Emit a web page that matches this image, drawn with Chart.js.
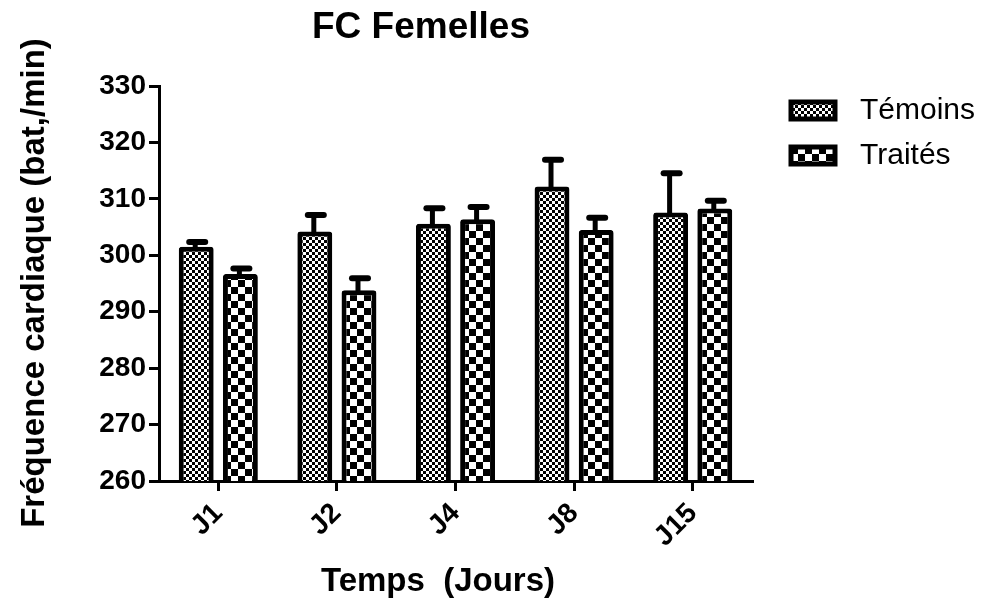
<!DOCTYPE html>
<html>
<head>
<meta charset="utf-8">
<script src="https://cdn.jsdelivr.net/npm/chart.js@4/dist/chart.umd.min.js"></script>
<style>
  html, body { margin: 0; padding: 0; background: #fff; }
  #wrap { width: 984px; height: 601px; }
</style>
</head>
<body>
<div id="wrap"><canvas id="c" width="984" height="601"></canvas></div>
<script>
// Heart rate of female animals, mean + SEM per day
const days = ['J1', 'J2', 'J4', 'J8', 'J15'];
const temoins = [301.5, 304.2, 305.6, 312.2, 307.6];
const temoinsErr = [1.2, 3.3, 3.1, 5.1, 7.3];
const traites = [296.7, 293.8, 306.4, 304.5, 308.3];
const traitesErr = [1.3, 2.5, 2.5, 2.5, 1.7];
const seriesNames = ['Témoins', 'Traités'];
const yTicks = { min: 260, max: 330, step: 10 };

const FONT = '"Liberation Sans", Arial, Helvetica, sans-serif';

// black/white checkerboard fill
function checker(cell) {
  const off = document.createElement('canvas');
  off.width = off.height = cell * 2;
  const g = off.getContext('2d');
  g.fillStyle = '#fff';
  g.fillRect(0, 0, cell * 2, cell * 2);
  g.fillStyle = '#000';
  g.fillRect(0, 0, cell, cell);
  g.fillRect(cell, cell, cell, cell);
  return g.createPattern(off, 'repeat');
}
const fineFill = checker(3);
const coarseFill = checker(7);

// upward error bars with a cap
const errorBars = {
  id: 'errorBars',
  afterDatasetsDraw(chart) {
    const ctx = chart.ctx;
    const yScale = chart.scales.y;
    chart.data.datasets.forEach((ds, i) => {
      const meta = chart.getDatasetMeta(i);
      meta.data.forEach((bar, j) => {
        const top = yScale.getPixelForValue(ds.data[j] + ds.errors[j]);
        ctx.save();
        ctx.strokeStyle = '#000';
        ctx.lineWidth = 5;
        ctx.beginPath();
        ctx.moveTo(bar.x - 1, bar.y + 2);
        ctx.lineTo(bar.x - 1, top + 2);
        ctx.stroke();
        ctx.lineWidth = 6;
        ctx.lineCap = 'round';
        ctx.beginPath();
        ctx.moveTo(bar.x - 7, top + 2);
        ctx.lineTo(bar.x + 9, top + 2);
        ctx.stroke();
        ctx.restore();
      });
    });
  }
};

// title, axis titles and legend
const annotations = {
  id: 'annotations',
  afterDraw(chart) {
    const ctx = chart.ctx;
    ctx.save();
    ctx.fillStyle = '#000';

    ctx.font = 'bold 37px ' + FONT;
    ctx.textAlign = 'center';
    ctx.textBaseline = 'alphabetic';
    ctx.fillText('FC Femelles', 421, 38);

    ctx.font = 'bold 33px ' + FONT;
    ctx.fillText('Temps  (Jours)', 438, 591);

    ctx.save();
    ctx.translate(44, 283);
    ctx.rotate(-Math.PI / 2);
    ctx.fillText('Fréquence cardiaque (bat,/min)', 0, 0);
    ctx.restore();

    // legend
    const rows = [
      { fill: fineFill, y: 110 },
      { fill: coarseFill, y: 155 }
    ];
    ctx.textAlign = 'left';
    ctx.textBaseline = 'middle';
    ctx.font = '30px ' + FONT;
    rows.forEach((r, i) => {
      ctx.fillStyle = r.fill;
      ctx.fillRect(791, r.y - 8, 44, 17);
      ctx.strokeStyle = '#000';
      ctx.lineWidth = 5;
      ctx.strokeRect(791, r.y - 8, 44, 17);
      ctx.fillStyle = '#000';
      ctx.fillText(chart.data.datasets[i].label, 860, r.y + 1);
    });
    ctx.restore();
  }
};

const axisGrid = {
  display: true,
  drawOnChartArea: false,
  drawTicks: true,
  tickLength: 10,
  lineWidth: 3,
  color: '#000'
};

new Chart(document.getElementById('c'), {
  type: 'bar',
  data: {
    labels: days,
    datasets: [
      {
        label: seriesNames[0],
        data: temoins,
        errors: temoinsErr,
        backgroundColor: fineFill,
        borderColor: '#000',
        borderWidth: 5,
        borderRadius: 3,
        borderSkipped: 'start'
      },
      {
        label: seriesNames[1],
        data: traites,
        errors: traitesErr,
        backgroundColor: coarseFill,
        borderColor: '#000',
        borderWidth: 5,
        borderRadius: 3,
        borderSkipped: 'start'
      }
    ]
  },
  options: {
    responsive: false,
    animation: false,
    events: [],
    categoryPercentage: 0.745,
    barPercentage: 0.79,
    layout: { padding: { top: 86, right: 232, left: 0, bottom: 0 } },
    plugins: {
      legend: { display: false },
      title: { display: false },
      tooltip: { enabled: false }
    },
    scales: {
      y: {
        min: yTicks.min,
        max: yTicks.max,
        ticks: {
          stepSize: yTicks.step,
          color: '#000',
          padding: 3,
          font: { family: FONT, size: 28, weight: 'bold' }
        },
        grid: axisGrid,
        border: { display: true, color: '#000', width: 3 },
        afterFit(s) { s.width = 159; }
      },
      x: {
        ticks: {
          color: '#000',
          padding: 6,
          minRotation: 45,
          maxRotation: 45,
          font: { family: FONT, size: 28, weight: 'bold' }
        },
        grid: Object.assign({}, axisGrid, { offset: false }),
        border: { display: true, color: '#000', width: 3 },
        afterFit(s) { s.height = 120; }
      }
    }
  },
  plugins: [errorBars, annotations]
});
</script>
</body>
</html>
